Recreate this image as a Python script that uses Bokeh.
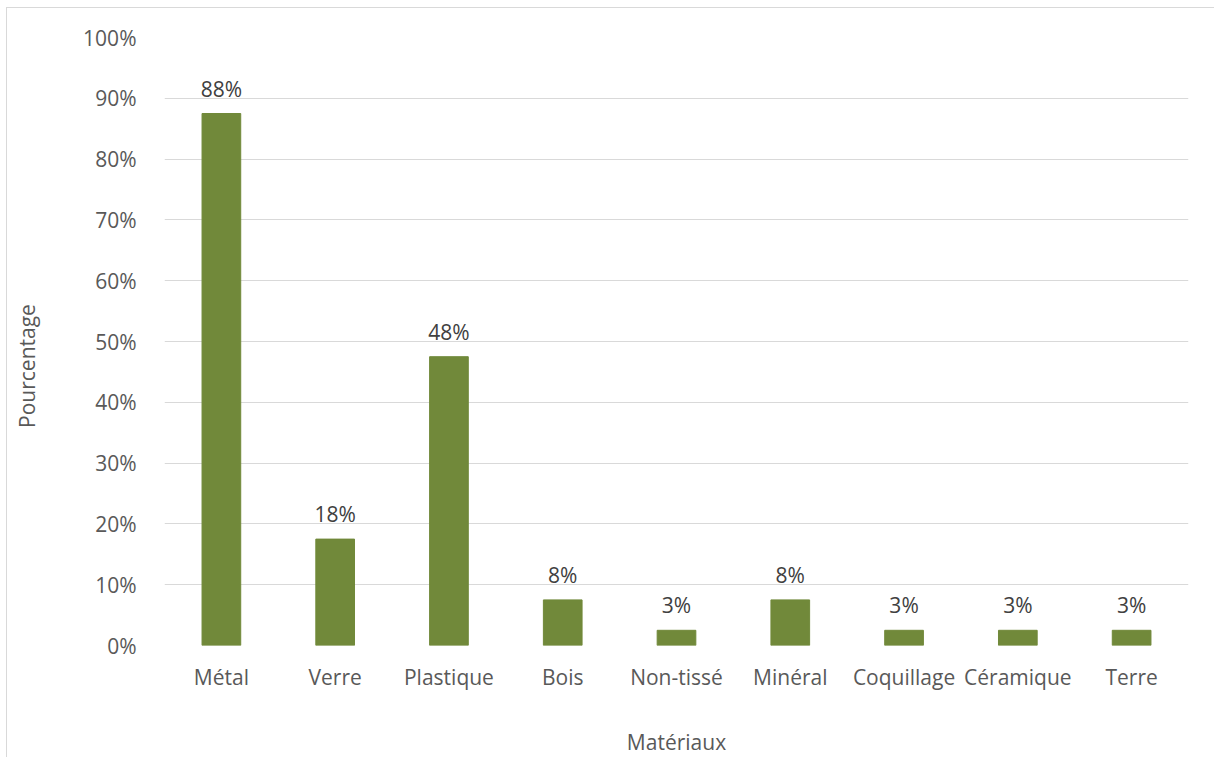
from bokeh.plotting import figure
from bokeh.models import ColumnDataSource, FactorRange, Range1d, FixedTicker, PrintfTickFormatter
from bokeh.core.properties import value
from bokeh.embed import file_html
from bokeh.resources import INLINE
import math

# Share of items by material (percent)
materials = ["Métal", "Verre", "Plastique", "Bois", "Non-tissé", "Minéral",
             "Coquillage", "Céramique", "Terre"]
shares = [87.5, 17.5, 47.5, 7.5, 2.5, 7.5, 2.5, 2.5, 2.5]
y_ticks = [0, 10, 20, 30, 40, 50, 60, 70, 80, 90, 100]

labels = ["%d%%" % math.floor(v + 0.5) for v in shares]
src = ColumnDataSource(dict(x=materials, top=shares, label=labels))

FONT = "Open Sans"
SIZE = "21px"
TICK_COLOR = "#595959"

p = figure(
    x_range=FactorRange(*materials, range_padding=0),
    y_range=Range1d(0, 100),
    width=1208, height=750,
    output_backend="svg", toolbar_location=None,
    min_border_left=157, min_border_right=27,
    min_border_top=29, min_border_bottom=113,
    outline_line_color=None,
    margin=(7, 0, 0, 6),
)
p.styles = {"border-top": "1px solid #d9d9d9", "border-left": "1px solid #d9d9d9"}

p.vbar(x="x", top="top", width=0.34, source=src, fill_color="#71893A", line_color="#71893A")
p.text(x="x", y="top", text="label", source=src, y_offset=-25,
       text_align="center", text_baseline="alphabetic",
       text_font=value(FONT), text_font_size=SIZE, text_color="#404040")

p.xgrid.grid_line_color = None
p.ygrid.grid_line_color = "#d9d9d9"
p.ygrid.grid_line_width = 1

p.yaxis.ticker = FixedTicker(ticks=y_ticks)
p.yaxis.formatter = PrintfTickFormatter(format="%d%%")

for ax in (p.xaxis[0], p.yaxis[0]):
    ax.axis_line_color = None
    ax.major_tick_line_color = None
    ax.minor_tick_line_color = None
    ax.major_label_text_font = FONT
    ax.major_label_text_font_size = SIZE
    ax.major_label_text_color = TICK_COLOR
    ax.axis_label_text_font = FONT
    ax.axis_label_text_font_size = SIZE
    ax.axis_label_text_font_style = "normal"
    ax.axis_label_text_color = TICK_COLOR

p.xaxis.axis_label = "Matériaux"
p.xaxis.major_label_standoff = 11
p.xaxis.axis_label_standoff = 34

# trailing no-break spaces set the vertical title a little below the frame's middle
p.yaxis.axis_label = "Pourcentage" + "\u00a0" * 9
p.yaxis.major_label_standoff = 22
p.yaxis.axis_label_standoff = 39

open("out.html", "w").write(file_html(p, INLINE))
